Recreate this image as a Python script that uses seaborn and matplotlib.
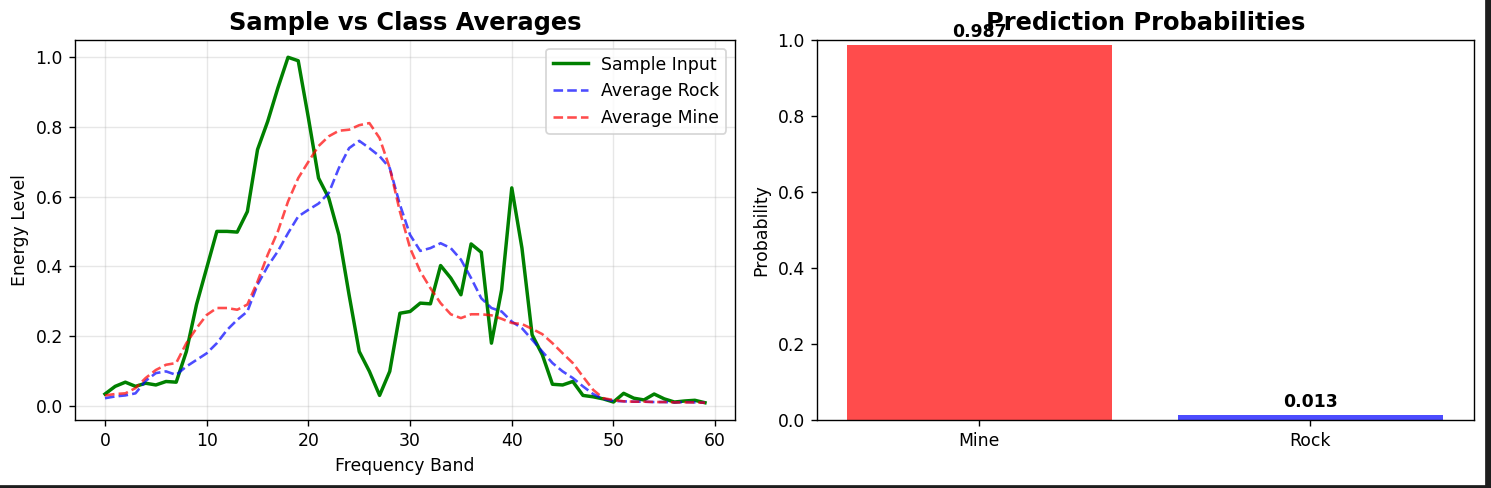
import numpy as np
import pandas as pd
import matplotlib
matplotlib.use("Agg")
import matplotlib.pyplot as plt
import seaborn as sns
from matplotlib.patches import Rectangle

# values
bands = list(range(60))
sample_input = [0.033, 0.055, 0.067, 0.055, 0.064, 0.059, 0.069, 0.067, 0.155, 0.29,
                0.395, 0.50, 0.50, 0.498, 0.557, 0.735, 0.816, 0.912, 1.0, 0.99,
                0.826, 0.653, 0.596, 0.49, 0.318, 0.155, 0.098, 0.029, 0.098, 0.265,
                0.27, 0.294, 0.292, 0.402, 0.366, 0.318, 0.464, 0.44, 0.179, 0.332,
                0.625, 0.452, 0.203, 0.146, 0.061, 0.059, 0.069, 0.029, 0.025, 0.019,
                0.01, 0.035, 0.021, 0.016, 0.033, 0.019, 0.01, 0.013, 0.015, 0.008]
avg_rock = [0.021, 0.026, 0.029, 0.035, 0.071, 0.093, 0.098, 0.088, 0.112, 0.131,
            0.15, 0.179, 0.217, 0.246, 0.27, 0.347, 0.40, 0.443, 0.495, 0.543,
            0.562, 0.58, 0.61, 0.682, 0.739, 0.76, 0.739, 0.716, 0.682, 0.577,
            0.49, 0.444, 0.452, 0.466, 0.452, 0.419, 0.366, 0.308, 0.28, 0.27,
            0.241, 0.222, 0.189, 0.155, 0.122, 0.098, 0.079, 0.055, 0.033, 0.019,
            0.013, 0.012, 0.011, 0.011, 0.010, 0.010, 0.009, 0.010, 0.009, 0.008]
avg_mine = [0.029, 0.033, 0.035, 0.05, 0.079, 0.102, 0.117, 0.122, 0.179, 0.222,
            0.26, 0.28, 0.28, 0.275, 0.29, 0.356, 0.433, 0.50, 0.586, 0.653,
            0.70, 0.745, 0.773, 0.789, 0.792, 0.805, 0.811, 0.768, 0.682, 0.557,
            0.452, 0.385, 0.337, 0.294, 0.262, 0.251, 0.262, 0.262, 0.259, 0.249,
            0.237, 0.234, 0.22, 0.205, 0.179, 0.15, 0.122, 0.083, 0.045, 0.021,
            0.016, 0.012, 0.011, 0.011, 0.010, 0.010, 0.009, 0.009, 0.009, 0.008]

classes = ["Mine", "Rock"]
probs = [0.987, 0.013]

DPI = 124.25
fig = plt.figure(figsize=(1491 / DPI, 488 / DPI), dpi=DPI)
ax1 = fig.add_axes([75/1491, 68/488, 660/1491, 380/488])
ax2 = fig.add_axes([817/1491, 68/488, 657/1491, 380/488])

sns.lineplot(x=bands, y=sample_input, ax=ax1, color="g", linewidth=2, label="Sample Input")
sns.lineplot(x=bands, y=avg_rock, ax=ax1, color="b", linestyle="--", alpha=0.7,
             linewidth=1.5, label="Average Rock")
sns.lineplot(x=bands, y=avg_mine, ax=ax1, color="r", linestyle="--", alpha=0.7,
             linewidth=1.5, label="Average Mine")
ax1.set_title("Sample vs Class Averages", fontsize=14, fontweight="bold")
ax1.set_xlabel("Frequency Band")
ax1.set_ylabel("Energy Level")
ax1.grid(True, alpha=0.3)
ax1.legend(loc="upper right")

df = pd.DataFrame({"cls": classes, "p": probs})
sns.barplot(data=df, x="cls", y="p", hue="cls", palette=["red", "blue"], alpha=0.7,
            saturation=1, legend=False, ax=ax2)
ax2.set_xlim(-0.49, 1.495)
ax2.set_ylim(0, 1)
ax2.set_title("Prediction Probabilities", fontsize=14, fontweight="bold")
ax2.set_xlabel("")
ax2.set_ylabel("Probability")
for i, p in enumerate(probs):
    ax2.text(i, p + 0.01, f"{p:.3f}", ha="center", va="bottom", fontweight="bold")

# dark screenshot frame on right / bottom edges
fig.add_artist(Rectangle((1486/1491, 0), 5/1491, 1, transform=fig.transFigure,
                         color="#1e1e1e", zorder=10))
fig.add_artist(Rectangle((0, 0), 1, 2/488, transform=fig.transFigure,
                         color="#1e1e1e", zorder=10))

fig.savefig("out.png", dpi=DPI)
